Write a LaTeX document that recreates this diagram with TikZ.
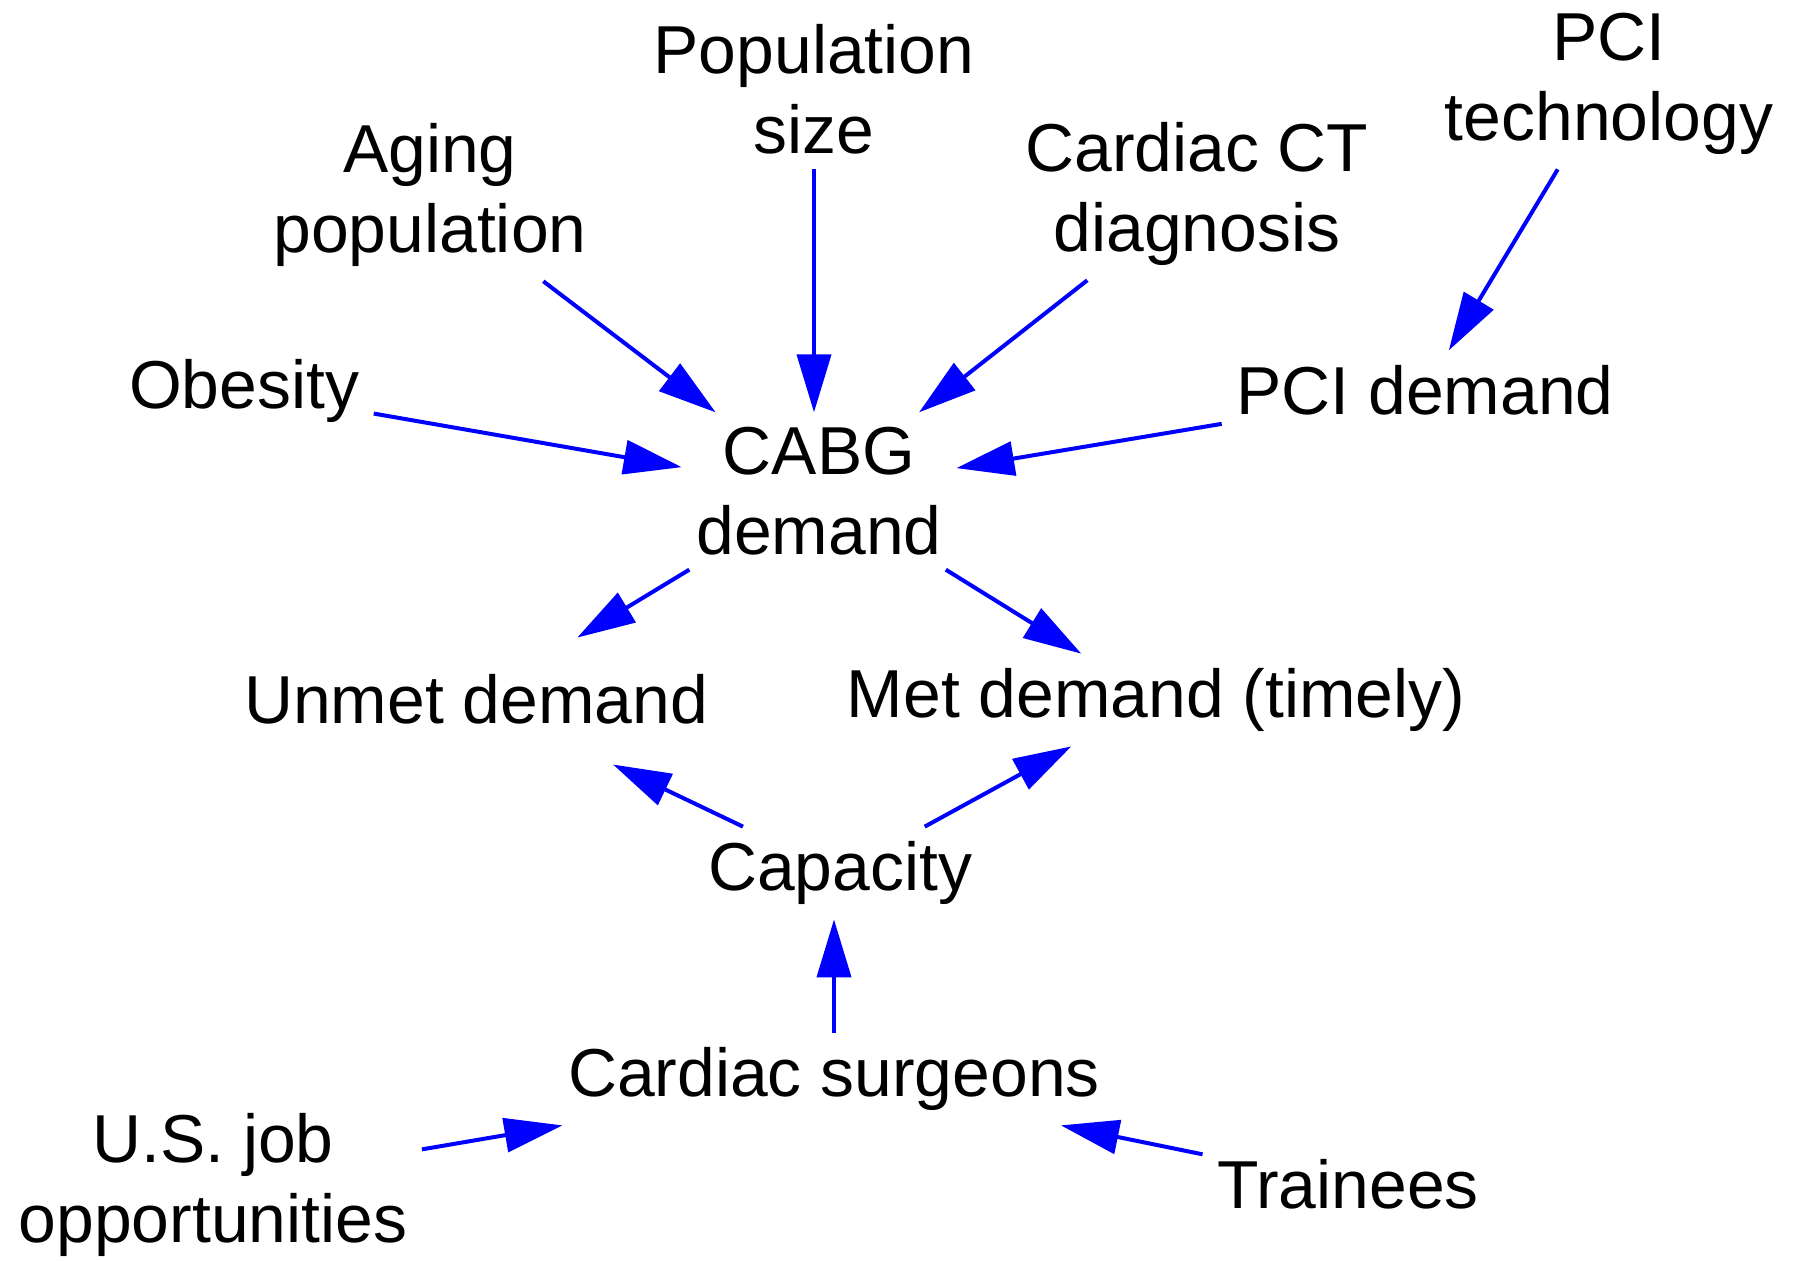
\documentclass[tikz,border=0pt]{standalone}
\usepackage{fontspec}
\setmainfont{Liberation Sans}
\usepackage{xcolor}
\usepackage{tikz}
\usetikzlibrary{positioning, arrows.meta}
\definecolor{linkblue}{HTML}{0000FF}

\begin{document}
\begin{tikzpicture}[
    factor/.style={align=center, inner sep=4pt,
      font=\fontsize{19.3}{22.7}\selectfont},
    link/.style={draw=linkblue, line width=0.04cm,
      -{Triangle[length=0.58cm, width=0.34cm, fill=linkblue]}}]
  \useasboundingbox (0,0) rectangle (17.96,12.6);

  % drivers of demand
  \node[factor] (popsize)  at (8.14,11.71) {Population\\size};
  \node[factor] (aging)    at (4.30,10.65) {Aging\\population};
  \node[factor] (cardct)   at (11.97,10.66) {Cardiac CT\\diagnosis};
  \node[factor] (pcitech)  at (16.09,11.76) {PCI\\technology};
  \node[factor] (obesity)  at (2.44,8.69) {Obesity};
  \node[factor] (pcidem)   at (14.25,8.70) {PCI demand};
  \node[factor] (cabg)     at (8.19,7.69) {CABG\\demand};

  % outcomes and supply side
  \node[factor] (unmet)    at (4.76,5.61) {Unmet demand};
  \node[factor] (met)      at (11.56,5.60) {Met demand (timely)};
  \node[factor] (capacity) at (8.40,3.87) {Capacity};
  \node[factor] (surgeons) at (8.34,1.81) {Cardiac surgeons};
  \node[factor] (usjob)    at (2.13,0.75) {U.S. job\\opportunities};
  \node[factor] (trainees) at (13.48,0.76) {Trainees};

  \draw[link] (popsize) -- (popsize |- cabg.north);
  \draw[link] (aging) -- (cabg);
  \draw[link] (cardct) -- (cabg);
  \draw[link] (obesity) -- (cabg);
  \draw[link] (pcidem) -- (cabg);
  \draw[link] (pcitech) -- (pcidem);
  \draw[link, shorten >=0.42cm] (cabg) -- (unmet);
  \draw[link] (cabg) -- (met);
  \draw[link, shorten >=0.6cm] (capacity) -- (unmet);
  \draw[link] (capacity) -- (met);
  \draw[link] (surgeons.north) -- (surgeons.north |- capacity.south);
  \draw[link] (usjob) -- (surgeons);
  \draw[link] (trainees) -- (surgeons);
\end{tikzpicture}
\end{document}
